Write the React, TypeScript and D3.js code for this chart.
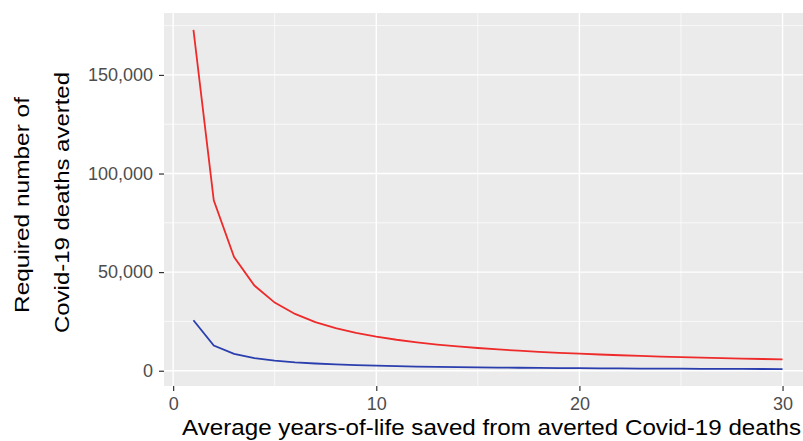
import React, { useRef, useEffect } from "react";
import * as d3 from "d3";

// years-of-life saved per averted death
const years = [1, 2, 3, 4, 5, 6, 7, 8, 9, 10, 11, 12, 13, 14, 15, 16, 17, 18, 19, 20, 21, 22, 23, 24, 25, 26, 27, 28, 29, 30];

// red series (upper curve)
const redDeaths = [172800, 86400, 57600, 43200, 34560, 28800, 24690, 21600, 19200, 17280, 15710, 14400, 13290, 12340, 11520, 10800, 10160, 9600, 9090, 8640, 8230, 7850, 7510, 7200, 6910, 6650, 6400, 6170, 5960, 5760];

// blue series (lower curve)
const blueDeaths = [25600, 12800, 8530, 6400, 5120, 4270, 3660, 3200, 2840, 2560, 2330, 2130, 1970, 1830, 1710, 1600, 1510, 1420, 1350, 1280, 1220, 1160, 1110, 1070, 1020, 985, 950, 915, 880, 855];

const xTicks = [0, 10, 20, 30];
const xMinor = [5, 15, 25];
const yTicks = [0, 50000, 100000, 150000];
const yMinor = [25000, 75000, 125000, 175000];

const App: React.FC = () => {
  const svgRef = useRef<SVGSVGElement>(null);

  useEffect(() => {
    const width = 803;
    const height = 441;
    const panel = { left: 164, right: 812, top: 13, bottom: 386 };

    const svg = d3.select(svgRef.current);
    svg.selectAll("*").remove();
    svg.attr("width", width).attr("height", height);

    const allY = redDeaths.concat(blueDeaths);
    const yMin = d3.min(allY) as number;
    const yMax = d3.max(allY) as number;
    const yPad = (yMax - yMin) * 0.05;
    const xPad = (years[years.length - 1] - years[0]) * 0.05;

    const x = d3
      .scaleLinear()
      .domain([years[0] - xPad, years[years.length - 1] + xPad])
      .range([panel.left, panel.right]);

    const y = d3
      .scaleLinear()
      .domain([yMin - yPad, yMax + yPad])
      .range([panel.bottom, panel.top]);

    // panel background
    svg.append("rect")
      .attr("x", panel.left)
      .attr("y", panel.top)
      .attr("width", panel.right - panel.left)
      .attr("height", panel.bottom - panel.top)
      .attr("fill", "#ebebeb");

    const grid = svg.append("g");

    // minor grid
    grid.selectAll(".xminor")
      .data(xMinor)
      .enter()
      .append("line")
      .attr("x1", d => x(d))
      .attr("x2", d => x(d))
      .attr("y1", panel.top)
      .attr("y2", panel.bottom)
      .attr("stroke", "#fff")
      .attr("stroke-width", 0.7);

    grid.selectAll(".yminor")
      .data(yMinor.filter(d => y(d) >= panel.top))
      .enter()
      .append("line")
      .attr("x1", panel.left)
      .attr("x2", panel.right)
      .attr("y1", d => y(d))
      .attr("y2", d => y(d))
      .attr("stroke", "#fff")
      .attr("stroke-width", 0.7);

    // major grid
    grid.selectAll(".xmajor")
      .data(xTicks)
      .enter()
      .append("line")
      .attr("x1", d => x(d))
      .attr("x2", d => x(d))
      .attr("y1", panel.top)
      .attr("y2", panel.bottom)
      .attr("stroke", "#fff")
      .attr("stroke-width", 1.4);

    grid.selectAll(".ymajor")
      .data(yTicks)
      .enter()
      .append("line")
      .attr("x1", panel.left)
      .attr("x2", panel.right)
      .attr("y1", d => y(d))
      .attr("y2", d => y(d))
      .attr("stroke", "#fff")
      .attr("stroke-width", 1.4);

    // lines
    const line = d3
      .line<number>()
      .x((_, i) => x(years[i]))
      .y(d => y(d));

    svg.append("path")
      .datum(redDeaths)
      .attr("d", line)
      .attr("fill", "none")
      .attr("stroke", "#ee2a2a")
      .attr("stroke-width", 1.8);

    svg.append("path")
      .datum(blueDeaths)
      .attr("d", line)
      .attr("fill", "none")
      .attr("stroke", "#2a3eae")
      .attr("stroke-width", 1.8);

    const font = "'Liberation Sans', Arial, sans-serif";

    // x axis
    const xAxis = svg.append("g")
      .attr("transform", `translate(0, ${panel.bottom})`)
      .call(d3.axisBottom(x).tickValues(xTicks).tickSize(5).tickPadding(6).tickFormat(d3.format("d")));
    xAxis.select(".domain").remove();
    xAxis.selectAll("line").attr("stroke", "#333").attr("stroke-width", 1.2);
    xAxis.selectAll("text")
      .attr("fill", "#4d4d4d")
      .style("font-family", font)
      .style("font-size", "18px");

    // y axis
    const yAxis = svg.append("g")
      .attr("transform", `translate(${panel.left}, 0)`)
      .call(d3.axisLeft(y).tickValues(yTicks).tickSize(5).tickPadding(6).tickFormat(d3.format(",")));
    yAxis.select(".domain").remove();
    yAxis.selectAll("line").attr("stroke", "#333").attr("stroke-width", 1.2);
    yAxis.selectAll("text")
      .attr("fill", "#4d4d4d")
      .style("font-family", font)
      .style("font-size", "18px");

    // axis titles
    svg.append("text")
      .attr("x", 182)
      .attr("y", 435)
      .attr("textLength", 619)
      .attr("lengthAdjust", "spacingAndGlyphs")
      .style("font-family", font)
      .style("font-size", "21.5px")
      .attr("fill", "#000")
      .text("Average years-of-life saved from averted Covid-19 deaths");

    const yTitle = svg.append("text")
      .attr("transform", "rotate(-90)")
      .attr("text-anchor", "start")
      .attr("lengthAdjust", "spacingAndGlyphs")
      .style("font-family", font)
      .style("font-size", "21px")
      .attr("fill", "#000");
    yTitle.append("tspan")
      .attr("x", -313)
      .attr("y", 29)
      .attr("textLength", 216)
      .attr("lengthAdjust", "spacingAndGlyphs")
      .text("Required number of");
    yTitle.append("tspan")
      .attr("x", -333)
      .attr("y", 69)
      .attr("textLength", 261)
      .attr("lengthAdjust", "spacingAndGlyphs")
      .text("Covid-19 deaths averted");
  }, []);

  return (
    <div style={{ position: "absolute", left: 0, top: 0, width: 803, height: 441, overflow: "hidden", background: "#fff" }}>
      <svg ref={svgRef} style={{ display: "block" }} />
    </div>
  );
};

export default App;
